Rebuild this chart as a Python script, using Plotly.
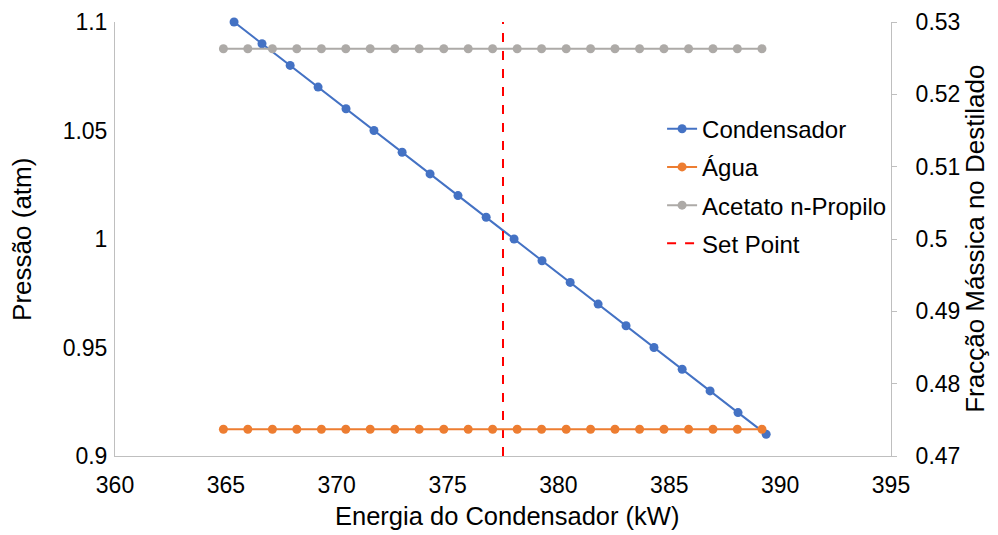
import plotly.graph_objects as go

# Condenser duty (kW) vs column pressure (atm)
energia_cond = [365.37, 366.63, 367.90, 369.16, 370.42, 371.68, 372.95, 374.21, 375.47, 376.74,
                378.00, 379.26, 380.53, 381.79, 383.05, 384.31, 385.58, 386.84, 388.10, 389.37]
pressao = [1.10, 1.09, 1.08, 1.07, 1.06, 1.05, 1.04, 1.03, 1.02, 1.01,
           1.00, 0.99, 0.98, 0.97, 0.96, 0.95, 0.94, 0.93, 0.92, 0.91]

# Distillate mass fractions vs condenser duty
energia_frac = [364.89, 365.99, 367.10, 368.20, 369.31, 370.41, 371.51, 372.62, 373.72, 374.83,
                375.93, 377.03, 378.14, 379.24, 380.35, 381.45, 382.55, 383.66, 384.76, 385.87,
                386.97, 388.07, 389.18]
frac_agua = [0.4737] * 23
frac_acetato = [0.5263] * 23

set_point = 377.5

x_title = "Energia do Condensador (kW)"
y_title = "Pressão (atm)"
y2_title = "Fracção Mássica no Destilado"

FONT = "Liberation Sans, Arial, sans-serif"
AXIS_COLOR = "#BFBFBF"

fig = go.Figure()

fig.add_trace(go.Scatter(
    x=energia_cond, y=pressao, name="Condensador", mode="lines+markers",
    line=dict(color="#4472C4", width=2), marker=dict(size=9, color="#4472C4"),
    legendgroup="a", yaxis="y", cliponaxis=False))
fig.add_trace(go.Scatter(
    x=energia_frac, y=frac_agua, name="Água", mode="lines+markers",
    line=dict(color="#ED7D31", width=2), marker=dict(size=9, color="#ED7D31"),
    legendgroup="b", yaxis="y2", cliponaxis=False))
fig.add_trace(go.Scatter(
    x=energia_frac, y=frac_acetato, name="Acetato n-Propilo", mode="lines+markers",
    line=dict(color="#ADAAA7", width=2), marker=dict(size=9, color="#ADAAA7"),
    legendgroup="c", yaxis="y2", cliponaxis=False))
fig.add_trace(go.Scatter(
    x=[set_point, set_point], y=[0.9, 1.1], name="Set Point", mode="lines",
    line=dict(color="#FF0000", width=2, dash="dash"),
    legendgroup="d", yaxis="y"))

axis_common = dict(showgrid=False, zeroline=False, showline=True,
                   linecolor=AXIS_COLOR, linewidth=1, automargin=False,
                   tickfont=dict(size=23))

fig.update_layout(
    width=998, height=535,
    margin=dict(l=115, r=107, t=22, b=79),
    paper_bgcolor="white", plot_bgcolor="white",
    font=dict(family=FONT, size=23, color="#000000"),
    showlegend=True,
    legend=dict(x=0.705, y=0.805, xanchor="left", yanchor="top",
                bgcolor="rgba(255,255,255,0)", font=dict(size=24),
                traceorder="grouped", tracegroupgap=4),
    xaxis=dict(range=[360, 395], dtick=5, tick0=360, ticks="",
               ticklabelstandoff=8, **axis_common),
    yaxis=dict(range=[0.9, 1.1], dtick=0.05, tick0=0.9, ticks="",
               ticklabelstandoff=2, **axis_common),
    yaxis2=dict(range=[0.47, 0.53], dtick=0.01, tick0=0.47,
                overlaying="y", side="right",
                ticks="outside", ticklen=5, tickcolor=AXIS_COLOR,
                ticklabelstandoff=14, **axis_common),
    annotations=[
        dict(text=x_title, xref="paper", yref="paper", x=0.505, y=-0.138,
             xanchor="center", yanchor="middle", showarrow=False,
             font=dict(size=25.5)),
        dict(text=y_title, xref="paper", yref="paper", x=-0.12, y=0.5,
             xanchor="center", yanchor="middle", showarrow=False,
             textangle=-90, font=dict(size=26)),
        dict(text=y2_title, xref="paper", yref="paper", x=1.108, y=0.5,
             xanchor="center", yanchor="middle", showarrow=False,
             textangle=-90, font=dict(size=26)),
    ],
)

fig.write_html("out.html")
